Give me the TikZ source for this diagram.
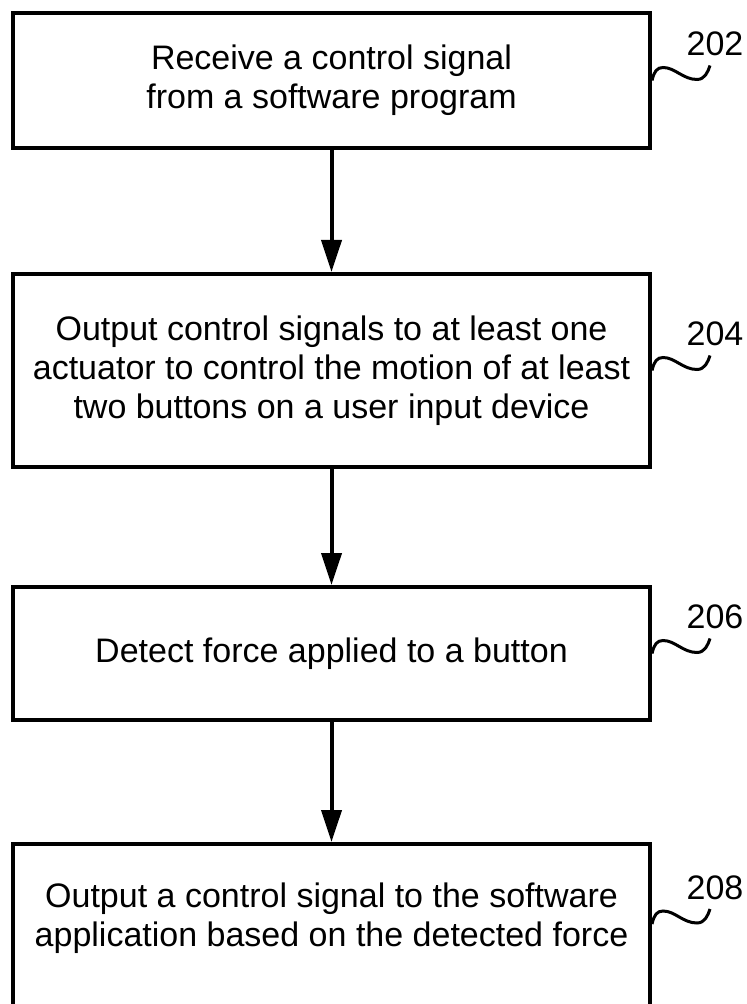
\documentclass[tikz,border=0pt]{standalone}
\usepackage{fontspec}
\setmainfont{Liberation Sans}
\usetikzlibrary{arrows.meta,calc,positioning}

\begin{document}
\begin{tikzpicture}[
  x=0.5pt, y=-0.5pt,
  every node/.style={font=\fontsize{17}{19.5}\selectfont},
  stepbox/.style={draw, line width=2pt, minimum width=318.5pt, inner sep=0pt, align=center},
  flow/.style={-{Triangle[length=16pt,width=10pt]}, line width=2pt},
  squig/.style={line width=1.5pt},
  reflabel/.style={anchor=south, inner sep=0pt, xshift=2.5pt, yshift=4pt},
]

% page
\useasboundingbox (0,0) rectangle (747,1004);
\clip (0,0) rectangle (747,1004);

% steps
\node[stepbox, minimum height=67.5pt] (s202) at (331.5,80.5)
  {Receive a control signal\\from a software program};
\node[stepbox, minimum height=96.5pt] (s204) at (331.5,370.5)
  {Output control signals to at least one\\actuator to control the motion of at least\\two buttons on a user input device};
\node[stepbox, minimum height=66.5pt] (s206) at (331.5,653.5)
  {Detect force applied to a button};
\node[stepbox, minimum height=100pt, anchor=north] (s208) at (331.5,842) {};
\node[align=center] (t208) at (331.5,918)
  {Output a control signal to the software\\application based on the detected force};

% flow
\draw[flow] (s202) -- (s204);
\draw[flow] (s204) -- (s206);
\draw[flow] (s206) -- (s208);

% reference numerals
\draw[squig] (s202.east) .. controls +(2,-9) and +(-6,0) .. ++(11,-13)
  .. controls +(12,0) and +(-14,0) .. ++(34,12)
  .. controls +(8,0) and +(-2,6) .. ++(13,-14) node[reflabel] {202};
\draw[squig] (s204.east) .. controls +(2,-9) and +(-6,0) .. ++(11,-13)
  .. controls +(12,0) and +(-14,0) .. ++(34,12)
  .. controls +(8,0) and +(-2,6) .. ++(13,-14) node[reflabel] {204};
\draw[squig] (s206.east) .. controls +(2,-9) and +(-6,0) .. ++(11,-13)
  .. controls +(12,0) and +(-14,0) .. ++(34,12)
  .. controls +(8,0) and +(-2,6) .. ++(13,-14) node[reflabel] {206};
\draw[squig] (s208.east |- t208) ++(0,6) .. controls +(2,-9) and +(-6,0) .. ++(11,-13)
  .. controls +(12,0) and +(-14,0) .. ++(34,12)
  .. controls +(8,0) and +(-2,6) .. ++(13,-14) node[reflabel] {208};

\end{tikzpicture}
\end{document}
